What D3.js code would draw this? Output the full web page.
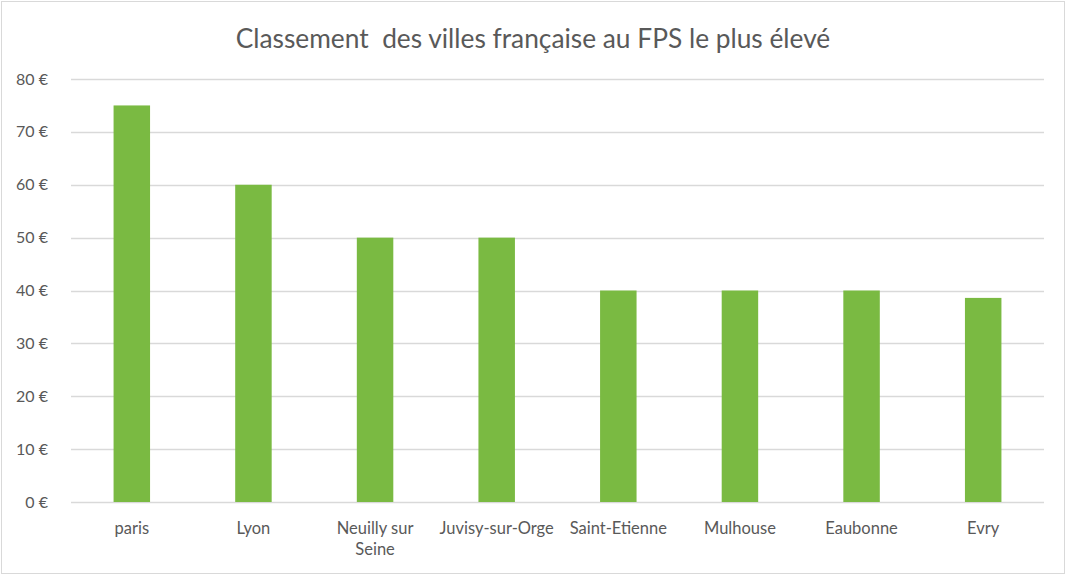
<!DOCTYPE html>
<html>
<head>
<meta charset="utf-8">
<script src="https://cdn.jsdelivr.net/npm/d3@7"></script>
<style>
body { margin: 0; background: #fff; }
text { font-family: "Lato", "Open Sans", sans-serif; fill: #595959; }
</style>
</head>
<body>
<div id="chart"></div>
<script>
var villes = ["paris", "Lyon", "Neuilly sur Seine", "Juvisy-sur-Orge", "Saint-Etienne", "Mulhouse", "Eaubonne", "Evry"];
var fps = [75, 60, 50, 50, 40, 40, 40, 38.6];
var ticks = [0, 10, 20, 30, 40, 50, 60, 70, 80];

var W = 1068, H = 577;
var svg = d3.select("#chart").append("svg")
    .attr("width", W)
    .attr("height", H)

svg.append("rect")
    .attr("x", 1.5).attr("y", 1.5)
    .attr("width", 1063).attr("height", 572)
    .style("fill", "#fff")
    .style("stroke", "#d9d9d9")

var plotLeft = 71, plotRight = 1044, plotTop = 79, plotBottom = 502;

var x = d3.scaleBand()
    .domain(villes)
    .range([plotLeft, plotRight])
    .paddingInner(0.7)
    .paddingOuter(0.35)

var y = d3.scaleLinear()
    .domain([0, 80])
    .range([plotBottom, plotTop])

// gridlines
svg.append("g")
    .selectAll("line")
    .data(ticks).enter()
    .append("line")
    .attr("x1", plotLeft)
    .attr("x2", plotRight)
    .attr("y1", d => Math.round(y(d)) + 0.5)
    .attr("y2", d => Math.round(y(d)) + 0.5)
    .style("stroke", "#d9d9d9")
    .style("stroke-width", 1.3)

// y tick labels
svg.append("g")
    .selectAll("text")
    .data(ticks).enter()
    .append("text")
    .text(d => d + " €")
    .attr("x", 48)
    .attr("y", d => y(d) + 5.5)
    .style("font-size", "16px")
    .style("text-anchor", "end")

// bars
svg.append("g")
    .selectAll("rect")
    .data(fps).enter()
    .append("rect")
    .attr("x", (d, i) => x(villes[i]))
    .attr("width", x.bandwidth())
    .attr("y", d => y(d))
    .attr("height", d => plotBottom - y(d))
    .style("fill", "#7aba42")

// category labels
var cats = svg.append("g")
    .selectAll("text")
    .data(villes).enter()
    .append("text")
    .attr("x", d => x(d) + x.bandwidth() / 2)
    .attr("y", 534)
    .style("font-size", "16.5px")
    .style("text-anchor", "middle")

cats.each(function (d) {
    var t = d3.select(this);
    var lines = d == "Neuilly sur Seine" ? ["Neuilly sur", "Seine"] : [d];
    lines.forEach(function (l, k) {
        t.append("tspan")
            .attr("x", x(d) + x.bandwidth() / 2)
            .attr("dy", k == 0 ? 0 : 21)
            .text(l)
    })
})

svg.append("text")
    .text("Classement  des villes française au FPS le plus élevé")
    .attr("x", 533)
    .attr("y", 48)
    .style("font-size", "26.3px")
    .style("white-space", "pre")
    .style("text-anchor", "middle")
</script>
</body>
</html>
